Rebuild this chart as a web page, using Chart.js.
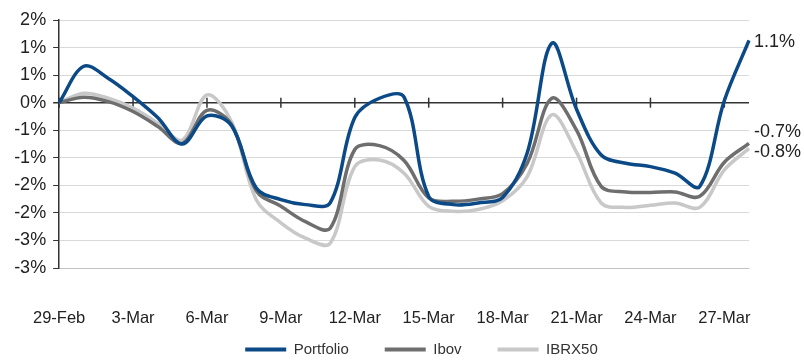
<!DOCTYPE html>
<html>
<head>
<meta charset="utf-8">
<script src="https://cdn.jsdelivr.net/npm/chart.js@4.4.0/dist/chart.umd.min.js"></script>
<style>
	html, body { margin: 0; padding: 0; background: #fff; }
	#wrap { width: 804px; height: 360px; }
</style>
</head>
<body>
<div id="wrap"><canvas id="myChart" width="804" height="360"></canvas></div>
<script>
// daily categories, 29-Feb to 28-Mar
const dates = [
	'29-Feb', '1-Mar', '2-Mar', '3-Mar', '4-Mar', '5-Mar', '6-Mar', '7-Mar',
	'8-Mar', '9-Mar', '10-Mar', '11-Mar', '12-Mar', '13-Mar', '14-Mar',
	'15-Mar', '16-Mar', '17-Mar', '18-Mar', '19-Mar', '20-Mar', '21-Mar',
	'22-Mar', '23-Mar', '24-Mar', '25-Mar', '26-Mar', '27-Mar', '28-Mar',
];
const xTickLabels = ['29-Feb', '3-Mar', '6-Mar', '9-Mar', '12-Mar', '15-Mar', '18-Mar', '21-Mar', '24-Mar', '27-Mar'];
// bottom to top, one per 0.5% step
const yTickLabels = ['-3%', '-3%', '-2%', '-2%', '-1%', '-1%', '0%', '1%', '1%', '2%'];

// values in %
const portfolio = [
	0, 0.66, 0.44, 0.11, -0.27, -0.75, -0.24, -0.42, -1.55, -1.76,
	-1.85, -1.82, -0.27, 0.08, 0.1, -1.7, -1.85, -1.82, -1.72, -0.91,
	1.08, -0.12, -0.95, -1.1, -1.16, -1.28, -1.52, 0.04, 1.13,
];
const ibov = [
	0, 0.1, 0.02, -0.16, -0.43, -0.74, -0.14, -0.4, -1.6, -1.88,
	-2.16, -2.28, -0.85, -0.78, -1.05, -1.73, -1.79, -1.75, -1.65, -1.1,
	0.08, -0.5, -1.52, -1.62, -1.63, -1.62, -1.7, -1.08, -0.74,
];
const ibrx50 = [
	0, 0.17, 0.08, -0.1, -0.37, -0.68, 0.14, -0.35, -1.76, -2.18,
	-2.46, -2.55, -1.16, -1.04, -1.28, -1.88, -1.97, -1.94, -1.78, -1.34,
	-0.22, -0.9, -1.82, -1.9, -1.86, -1.82, -1.9, -1.22, -0.83,
];

const seriesNames = ['Portfolio', 'Ibov', 'IBRX50'];
const seriesColors = ['#0b4a86', '#6e6e6e', '#c8c8c8'];
const font = '"Liberation Sans", Arial, sans-serif';

//crossing tick marks on the zero line
const axisTicks = {
	id: 'axisTicks',
	beforeDatasetsDraw(chart) {
		const { ctx, scales: { x, y } } = chart;
		const y0 = y.getPixelForValue(0);
		ctx.save();
		ctx.strokeStyle = '#333';
		ctx.lineWidth = 1.5;
		xTickLabels.forEach((lbl) => {
			const px = x.getPixelForValue(dates.indexOf(lbl));
			ctx.beginPath();
			ctx.moveTo(px, y0 - 5);
			ctx.lineTo(px, y0 + 5);
			ctx.stroke();
		});
		ctx.restore();
	},
};

//last value written next to each line
const labelShift = [2, -11, 4];
const endLabels = {
	id: 'endLabels',
	afterDatasetsDraw(chart) {
		const { ctx } = chart;
		ctx.save();
		ctx.font = '18px ' + font;
		ctx.fillStyle = '#222';
		ctx.textBaseline = 'middle';
		chart.data.datasets.forEach((ds, i) => {
			const pts = chart.getDatasetMeta(i).data;
			const last = pts[pts.length - 1];
			const v = ds.data[ds.data.length - 1];
			ctx.fillText(v.toFixed(1) + '%', last.x + 5, last.y + labelShift[i]);
		});
		ctx.restore();
	},
};

//legend box is squeezed by maxHeight (it clips to its box), so move and regrow it here
const legendShift = {
	id: 'legendShift',
	afterLayout(chart) {
		const lg = chart.legend;
		lg.left += 47;
		lg.right += 47;
		lg.top -= 22;
		lg.bottom = lg.top + 61;
	},
};

const ctx = document.getElementById('myChart').getContext('2d');
const myChart = new Chart(ctx, {
	type: 'line',
	data: {
		labels: dates,
		datasets: [portfolio, ibov, ibrx50].map((d, i) => ({
			label: seriesNames[i],
			data: d,
			borderColor: seriesColors[i],
			backgroundColor: seriesColors[i],
			borderWidth: 3.5,
			pointRadius: 0,
			tension: 0.35,
			fill: false,
		})),
	},
	options: {
		responsive: false,
		animation: false,
		layout: { padding: { top: 20, right: 55, bottom: 0, left: 0 } },
		plugins: {
			tooltip: { enabled: false },
			legend: {
				position: 'bottom',
				maxHeight: 32,
				labels: {
					font: { family: font, size: 15 },
					color: '#333',
					boxWidth: 41,
					boxHeight: 4,
					padding: 36,
					generateLabels: (chart) =>
						Chart.defaults.plugins.legend.labels.generateLabels(chart).map((l) => ({
							...l,
							lineWidth: 0,
							fillStyle: l.strokeStyle,
						})),
				},
			},
		},
		scales: {
			x: {
				// labels are clipped to the scale box, keep it tall enough
				afterFit(scale) {
					scale.height = 60;
				},
				grid: { display: false },
				ticks: {
					autoSkip: false,
					maxRotation: 0,
					padding: 33,
					color: '#222',
					font: { family: font, size: 16.5 },
					callback: (v, i) => (xTickLabels.includes(dates[i]) ? dates[i] : ''),
				},
			},
			y: {
				min: -3,
				max: 1.5,
				afterFit(scale) {
					scale.width = 55;
				},
				ticks: {
					stepSize: 0.5,
					padding: 7,
					color: '#222',
					font: { family: font, size: 18 },
					callback: (v, i) => yTickLabels[i],
				},
				grid: {
					color: (c) => (c.tick && c.tick.value === 0 ? '#333' : '#d9d9d9'),
					lineWidth: (c) => (c.tick && c.tick.value === 0 ? 1.5 : 1),
					tickColor: '#333',
					tickLength: 6,
				},
				border: { color: '#333', width: 1.5 },
			},
		},
	},
	plugins: [axisTicks, endLabels, legendShift],
});
</script>
</body>
</html>
